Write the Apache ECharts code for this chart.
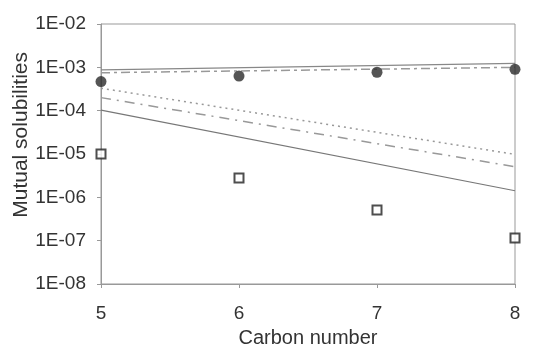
<!DOCTYPE html>
<html>
<head>
<meta charset="utf-8">
<script src="https://cdn.jsdelivr.net/npm/echarts@6/dist/echarts.min.js"></script>
<style>
  html, body { margin: 0; padding: 0; background: #fff; }
  #chart { width: 543px; height: 345px; }
</style>
</head>
<body>
<div id="chart"></div>
<script>
// carbon numbers
const carbonNumbers = [5, 6, 7, 8]
// measured points
const filledCircles = [4.7e-4, 6.3e-4, 7.7e-4, 9.0e-4]
const openSquares = [1.0e-5, 2.8e-6, 5.1e-7, 1.15e-7]
// model lines (straight on log scale, endpoints at C5 and C8)
const lineEnds = [5, 8]
const upperSolid = [8.7e-4, 1.24e-3]
const upperDashDot = [7.5e-4, 1.0e-3]
const dottedLine = [3.3e-4, 9.8e-6]
const dashDotLine = [2.0e-4, 5.1e-6]
const lowerSolid = [1.03e-4, 1.42e-6]

const pairs = (xs, ys) => xs.map((x, i) => [x, ys[i]])

const chart = echarts.init(document.getElementById('chart'))

const fontFamily = 'Liberation Sans, Arial, sans-serif'
const tickFont = { fontFamily, fontSize: 19, color: '#333' }
const titleFont = { fontFamily, fontSize: 20, color: '#333' }

const option = {
  animation: false,
  grid: {
    left: 101,
    right: 28,
    top: 24,
    bottom: 61,
    outerBoundsMode: 'none',
    containLabel: false,
    show: true,
    borderColor: '#999',
    borderWidth: 1,
  },
  xAxis: {
    type: 'value',
    min: 5,
    max: 8,
    interval: 1,
    name: 'Carbon number',
    nameLocation: 'middle',
    nameGap: 44,
    nameTextStyle: titleFont,
    axisLine: { lineStyle: { color: '#999' } },
    axisTick: { show: true, length: 4, lineStyle: { color: '#999' } },
    axisLabel: { ...tickFont, margin: 20 },
    splitLine: { show: false },
  },
  yAxis: {
    type: 'log',
    logBase: 10,
    min: 1e-8,
    max: 1e-2,
    axisLine: { show: true, lineStyle: { color: '#999' } },
    axisTick: { show: true, length: 4, lineStyle: { color: '#999' } },
    axisLabel: {
      ...tickFont,
      margin: 15,
      formatter: (v) => {
        const e = Math.round(Math.log10(v))
        return '1E-' + String(-e).padStart(2, '0')
      },
    },
    splitLine: { show: false },
    minorTick: { show: false },
  },
  graphic: [
    {
      type: 'text',
      left: 11,
      top: 52,
      rotation: Math.PI / 2,
      style: {
        text: 'Mutual solubilities',
        font: '21px Liberation Sans, Arial, sans-serif',
        fill: '#333',
      },
    },
  ],
  series: [
    {
      name: 'upper solid',
      type: 'line',
      data: pairs(lineEnds, upperSolid),
      symbol: 'none',
      lineStyle: { color: '#888', width: 1.2 },
    },
    {
      name: 'upper dash-dot',
      type: 'line',
      data: pairs(lineEnds, upperDashDot),
      symbol: 'none',
      lineStyle: { color: '#999', width: 1.5, type: [9, 4, 3, 4] },
    },
    {
      name: 'dotted',
      type: 'line',
      data: pairs(lineEnds, dottedLine),
      symbol: 'none',
      lineStyle: { color: '#999', width: 1.5, type: [2, 4] },
    },
    {
      name: 'dash-dot',
      type: 'line',
      data: pairs(lineEnds, dashDotLine),
      symbol: 'none',
      lineStyle: { color: '#999', width: 1.5, type: [10, 6, 2, 6] },
    },
    {
      name: 'lower solid',
      type: 'line',
      data: pairs(lineEnds, lowerSolid),
      symbol: 'none',
      lineStyle: { color: '#777', width: 1.2 },
    },
    {
      name: 'filled circles',
      type: 'scatter',
      data: pairs(carbonNumbers, filledCircles),
      symbol: 'circle',
      symbolSize: 11,
      itemStyle: { color: '#2a2a2a' },
      z: 5,
    },
    {
      name: 'open squares',
      type: 'scatter',
      data: pairs(carbonNumbers, openSquares),
      symbol: 'rect',
      symbolSize: 9,
      itemStyle: { color: '#fff', borderColor: '#222', borderWidth: 2 },
      z: 5,
    },
  ],
}

chart.setOption(option)
</script>
</body>
</html>
